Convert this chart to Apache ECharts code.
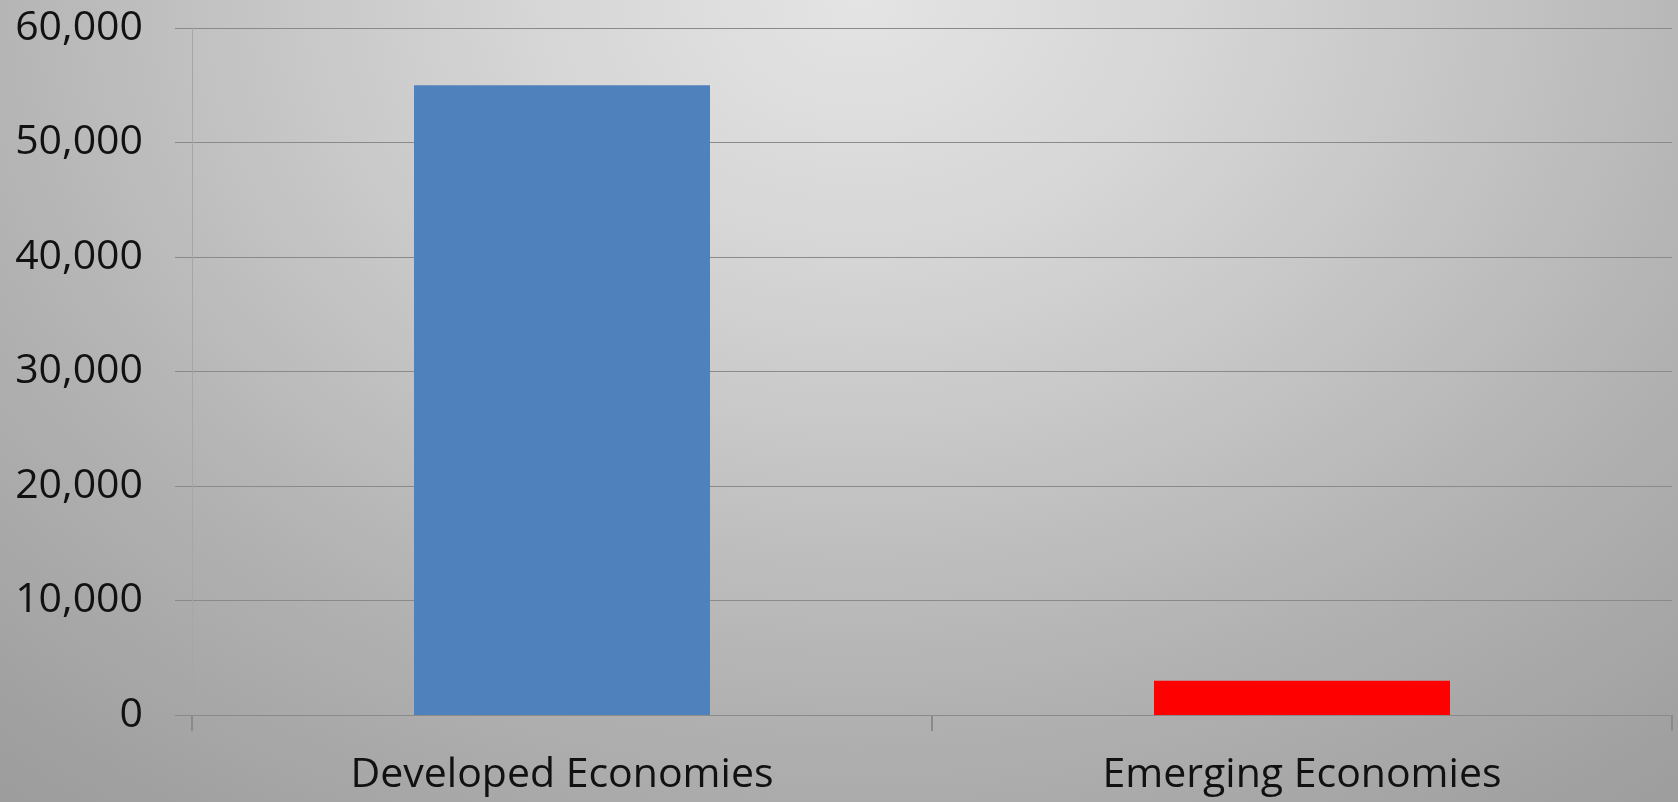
<!DOCTYPE html>
<html>
<head>
<meta charset="utf-8">
<script src="https://cdn.jsdelivr.net/npm/echarts@6/dist/echarts.min.js"></script>
<style>
  html, body { margin: 0; padding: 0; }
  #chart {
    width: 1678px; height: 802px;
    background: radial-gradient(ellipse 1300px 1000px at 860px 0px,
      #e4e4e4 0%, #d6d6d6 25%, #c8c8c8 43%, #b2b2b2 70%, #9e9e9e 100%, #989898 120%);
  }
</style>
</head>
<body>
<div id="chart"></div>
<script>
  // categories and values
  const categories = ['Developed Economies', 'Emerging Economies']
  const values = [55000, 3000]
  const barColors = ['#4f81bd', '#ff0000']

  const chart = echarts.init(document.getElementById('chart'))
  const gridColor = '#8a8a8a'
  const option = {
    backgroundColor: 'transparent',
    grid: {left: 192, right: 6, top: 28, bottom: 87},
    xAxis: {
      type: 'category',
      data: categories,
      axisLine: {lineStyle: {color: gridColor, width: 1}},
      axisTick: {show: true, length: 16, lineStyle: {color: gridColor, width: 2}},
      axisLabel: {
        margin: 40,
        color: '#111',
        fontFamily: 'Open Sans',
        fontSize: 41
      }
    },
    yAxis: {
      type: 'value',
      min: 0,
      max: 60000,
      interval: 10000,
      axisLine: {show: true, lineStyle: {color: '#a6a6a6', width: 1}},
      axisTick: {show: true, length: 17, lineStyle: {color: gridColor, width: 1}},
      splitLine: {lineStyle: {color: gridColor, width: 1}},
      axisLabel: {
        margin: 49,
        color: '#111',
        fontFamily: 'Open Sans',
        fontSize: 41,
        formatter: v => v.toLocaleString('en-US')
      }
    },
    series: [{
      type: 'bar',
      barWidth: '40%',
      data: values.map((v, i) => ({value: v, itemStyle: {color: barColors[i]}})),
      animation: false
    }]
  }
  chart.setOption(option)
</script>
</body>
</html>
